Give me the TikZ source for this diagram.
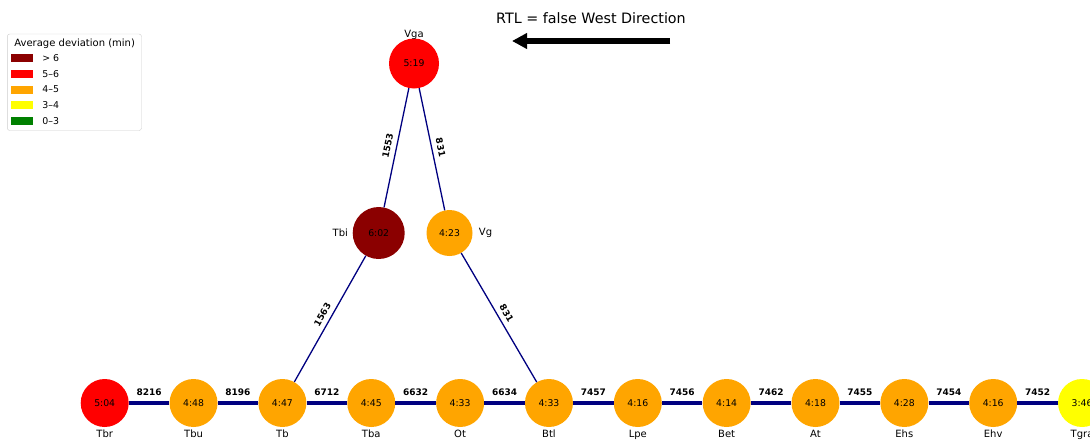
\documentclass[tikz,border=0pt]{standalone}
\usepackage{fontspec}
\setmainfont{DejaVu Sans}
\usetikzlibrary{arrows.meta,positioning}

\definecolor{lateDark}{RGB}{139,0,0}
\definecolor{lateRed}{RGB}{255,0,0}
\definecolor{lateOrange}{RGB}{255,165,0}
\definecolor{lateYellow}{RGB}{255,255,0}
\definecolor{lateGreen}{RGB}{0,128,0}
\definecolor{trackBlue}{RGB}{0,0,128}

\begin{document}
\begin{tikzpicture}[
    x=1pt, y=-1pt,
    node distance=40.45pt,
    station/.style={circle, inner sep=0pt, minimum size=48pt,
        font=\fontsize{9.3}{11}\selectfont},
    stationname/.style={font=\fontsize{10}{12}\selectfont},
    track/.style={trackBlue, line width=4pt},
    branch/.style={trackBlue, line width=1.3pt},
    tracklabel/.style={text=black, font=\fontsize{9}{11}\selectfont\bfseries, above=1.7pt},
    branchlabel/.style={text=black, font=\fontsize{9}{11}\selectfont\bfseries, sloped, above=1.5pt},
    swatch/.style={inner sep=0pt, minimum width=22pt, minimum height=8pt},
    legendtext/.style={font=\fontsize{9.4}{11}\selectfont, right=5.4pt of #1},
    label distance=-1pt
]
    \useasboundingbox (0,0) rectangle (1090,442);
    \clip (0,0) rectangle (1090,442);

    % direction banner
    \node[font=\fontsize{14.3}{17}\selectfont] (direction) at (591,18) {RTL = false West Direction};
    \coordinate (arrowtail) at (670,41);
    \coordinate (arrowhead) at (512,41);
    \draw[line width=6pt, -{Triangle[length=15pt, width=15pt]}] (arrowtail) -- (arrowhead);

    % legend
    \draw[black!20, rounded corners=2.5pt] (7.3,34) rectangle (141.5,130.5);
    \node[font=\fontsize{10}{12}\selectfont] (legendtitle) at (74.7,43.3) {Average deviation (min)};
    \node[swatch, fill=lateDark] (swdark) at (22.2,58.3) {};
    \node[swatch, fill=lateRed] (swred) at (22.2,74) {};
    \node[swatch, fill=lateOrange] (sworange) at (22.2,89.5) {};
    \node[swatch, fill=lateYellow] (swyellow) at (22.2,105) {};
    \node[swatch, fill=lateGreen] (swgreen) at (22.2,121) {};
    \node[legendtext=swdark] (ldark) {> 6};
    \node[legendtext=swred] (lred) {5–6};
    \node[legendtext=sworange] (lorange) {4–5};
    \node[legendtext=swyellow] (lyellow) {3–4};
    \node[legendtext=swgreen] (lgreen) {0–3};

    % main line
    \node[station, fill=lateRed, label={[stationname]below:Tbr}] (tbr) at (104.7,403) {5:04};
    \node[station, fill=lateOrange, right=of tbr, label={[stationname]below:Tbu}] (tbu) {4:48};
    \node[station, fill=lateOrange, right=of tbu, label={[stationname]below:Tb}] (tb) {4:47};
    \node[station, fill=lateOrange, right=of tb, label={[stationname]below:Tba}] (tba) {4:45};
    \node[station, fill=lateOrange, right=of tba, label={[stationname]below:Ot}] (ot) {4:33};
    \node[station, fill=lateOrange, right=of ot, label={[stationname]below:Btl}] (btl) {4:33};
    \node[station, fill=lateOrange, right=of btl, label={[stationname]below:Lpe}] (lpe) {4:16};
    \node[station, fill=lateOrange, right=of lpe, label={[stationname]below:Bet}] (bet) {4:14};
    \node[station, fill=lateOrange, right=of bet, label={[stationname]below:At}] (at) {4:18};
    \node[station, fill=lateOrange, right=of at, label={[stationname]below:Ehs}] (ehs) {4:28};
    \node[station, fill=lateOrange, right=of ehs, label={[stationname]below:Ehv}] (ehv) {4:16};
    \node[station, fill=lateYellow, right=of ehv, label={[stationname]below:Tgra}] (tgra) {3:46};

    % branch
    \node[station, fill=lateRed, minimum size=50pt, label={[stationname, label distance=-4.5pt]above:Vga}] (vga) at (414,63.5) {5:19};
    \node[station, fill=lateDark, minimum size=52pt, label={[stationname, label distance=1pt]left:Tbi}] (tbi) at (378.7,233) {6:02};
    \node[station, fill=lateOrange, minimum size=46pt, label={[stationname, label distance=2.7pt]right:Vg}] (vg) at (449.5,233) {4:23};

    \draw[track] (tbr) -- node[tracklabel] {8216} (tbu);
    \draw[track] (tbu) -- node[tracklabel] {8196} (tb);
    \draw[track] (tb) -- node[tracklabel] {6712} (tba);
    \draw[track] (tba) -- node[tracklabel] {6632} (ot);
    \draw[track] (ot) -- node[tracklabel] {6634} (btl);
    \draw[track] (btl) -- node[tracklabel] {7457} (lpe);
    \draw[track] (lpe) -- node[tracklabel] {7456} (bet);
    \draw[track] (bet) -- node[tracklabel] {7462} (at);
    \draw[track] (at) -- node[tracklabel] {7455} (ehs);
    \draw[track] (ehs) -- node[tracklabel] {7454} (ehv);
    \draw[track] (ehv) -- node[tracklabel] {7452} (tgra);

    \draw[branch] (vga) -- node[branchlabel] {1553} (tbi);
    \draw[branch] (vga) -- node[branchlabel] {831} (vg);
    \draw[branch] (tbi) -- node[branchlabel] {1563} (tb);
    \draw[branch] (vg) -- node[branchlabel] {831} (btl);
\end{tikzpicture}
\end{document}
